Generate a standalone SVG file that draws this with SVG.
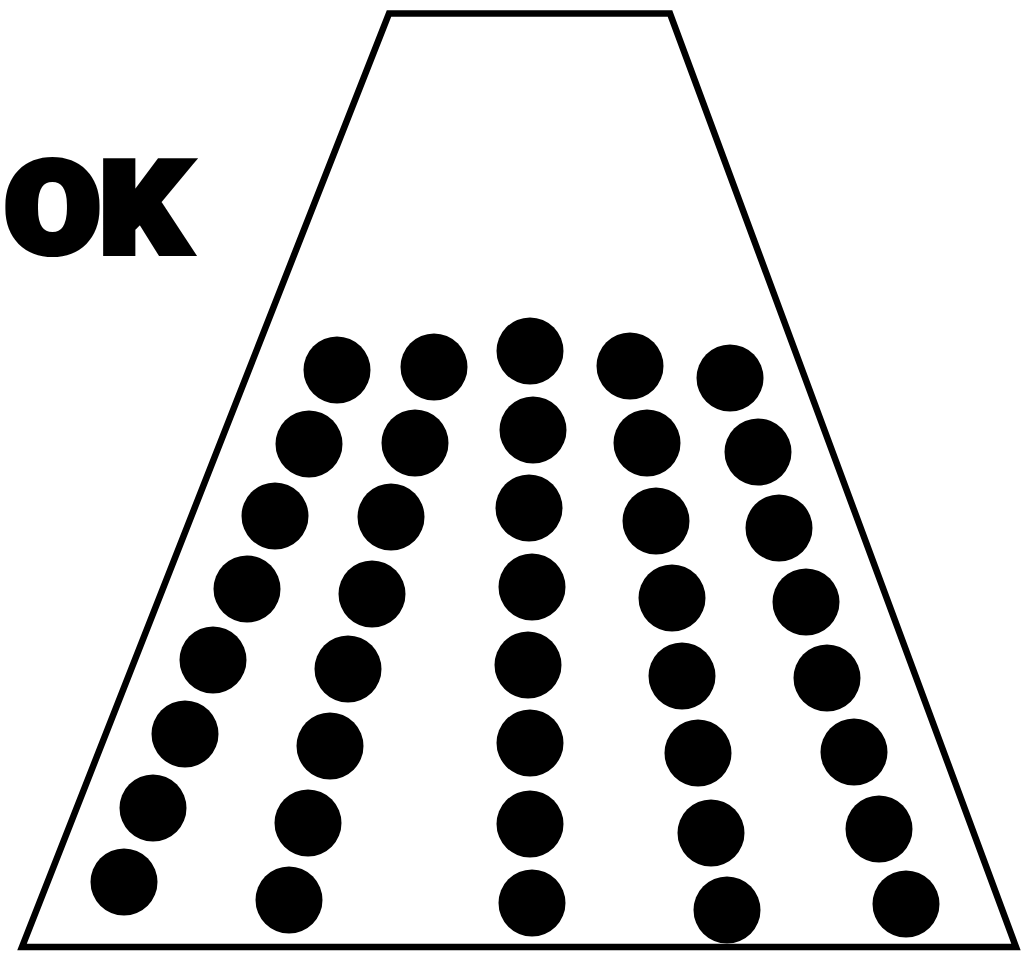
<svg xmlns="http://www.w3.org/2000/svg" width="1022" height="954" viewBox="0 0 1022 954">
<style>
.frame{fill:none;stroke:#000;stroke-width:6.5;stroke-linejoin:miter}
.dot{fill:#000}
.label{font-family:Roboto,"Liberation Sans",sans-serif;font-weight:900;font-size:127px;fill:#000;stroke:#000;stroke-width:8;stroke-linejoin:miter}
</style>
<rect width="1022" height="954" fill="#fff"/>
<polygon class="frame" points="389,13.5 670,13.5 1016,947 22,947"/>
<text class="label" x="5" y="252" textLength="183" lengthAdjust="spacingAndGlyphs">OK</text>
<g id="dots">
<circle class="dot" r="33.5" cx="337" cy="370"/>
<circle class="dot" r="33.5" cx="309" cy="444"/>
<circle class="dot" r="33.5" cx="275" cy="516"/>
<circle class="dot" r="33.5" cx="247" cy="589"/>
<circle class="dot" r="33.5" cx="213" cy="660"/>
<circle class="dot" r="33.5" cx="185" cy="734"/>
<circle class="dot" r="33.5" cx="153" cy="808"/>
<circle class="dot" r="33.5" cx="124" cy="882"/>
<circle class="dot" r="33.5" cx="434" cy="367"/>
<circle class="dot" r="33.5" cx="415" cy="443"/>
<circle class="dot" r="33.5" cx="391" cy="517"/>
<circle class="dot" r="33.5" cx="372" cy="594"/>
<circle class="dot" r="33.5" cx="348" cy="669"/>
<circle class="dot" r="33.5" cx="330" cy="746"/>
<circle class="dot" r="33.5" cx="308" cy="823"/>
<circle class="dot" r="33.5" cx="289" cy="900"/>
<circle class="dot" r="33.5" cx="530" cy="351"/>
<circle class="dot" r="33.5" cx="533" cy="430"/>
<circle class="dot" r="33.5" cx="529" cy="508"/>
<circle class="dot" r="33.5" cx="532" cy="587"/>
<circle class="dot" r="33.5" cx="528" cy="665"/>
<circle class="dot" r="33.5" cx="530" cy="743"/>
<circle class="dot" r="33.5" cx="530" cy="824"/>
<circle class="dot" r="33.5" cx="532" cy="903"/>
<circle class="dot" r="33.5" cx="630" cy="366"/>
<circle class="dot" r="33.5" cx="647" cy="443"/>
<circle class="dot" r="33.5" cx="656" cy="521"/>
<circle class="dot" r="33.5" cx="672" cy="598"/>
<circle class="dot" r="33.5" cx="682" cy="676"/>
<circle class="dot" r="33.5" cx="698" cy="753"/>
<circle class="dot" r="33.5" cx="711" cy="833"/>
<circle class="dot" r="33.5" cx="727" cy="910"/>
<circle class="dot" r="33.5" cx="730" cy="378"/>
<circle class="dot" r="33.5" cx="758" cy="452"/>
<circle class="dot" r="33.5" cx="779" cy="528"/>
<circle class="dot" r="33.5" cx="806" cy="602"/>
<circle class="dot" r="33.5" cx="827" cy="678"/>
<circle class="dot" r="33.5" cx="854" cy="752"/>
<circle class="dot" r="33.5" cx="879" cy="829"/>
<circle class="dot" r="33.5" cx="906" cy="904"/>
</g>
</svg>
